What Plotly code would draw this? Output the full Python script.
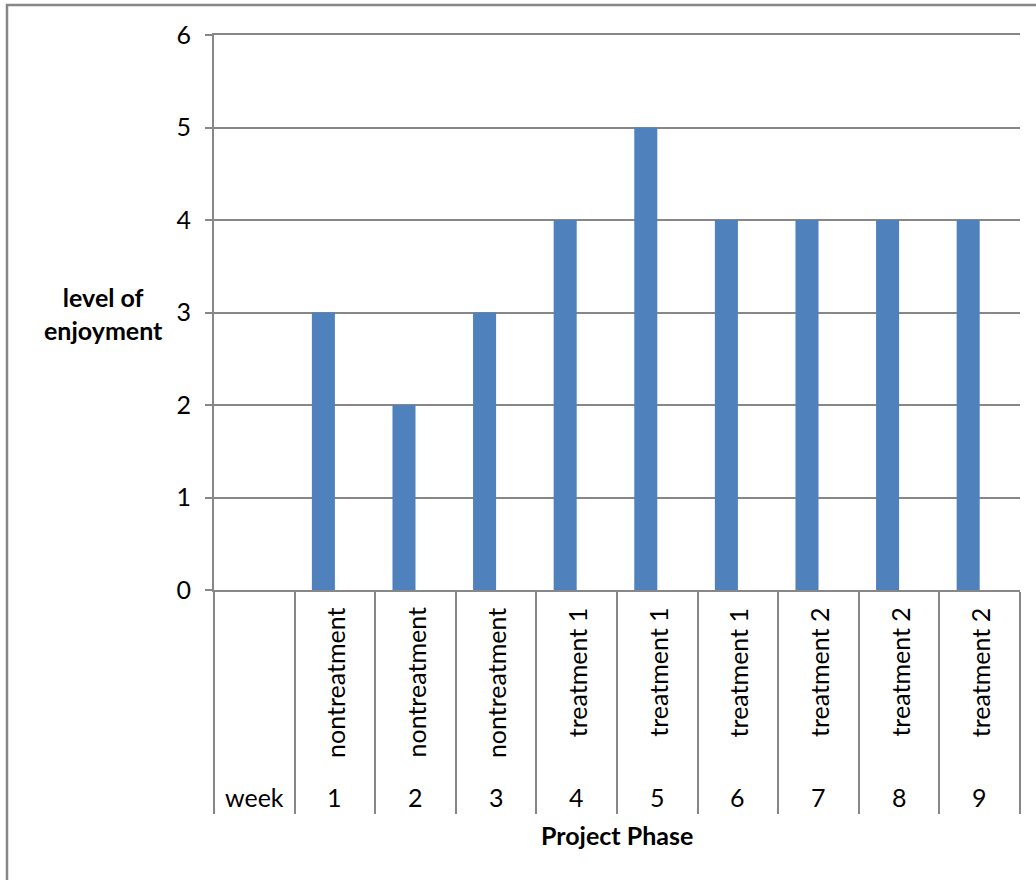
import plotly.graph_objects as go

# ---- data ----
weeks = ["1", "2", "3", "4", "5", "6", "7", "8", "9"]
phases = ["nontreatment", "nontreatment", "nontreatment",
          "treatment 1", "treatment 1", "treatment 1",
          "treatment 2", "treatment 2", "treatment 2"]
enjoyment = [3, 2, 3, 4, 5, 4, 4, 4, 4]
first_col_label = "week"
y_ticks = [0, 1, 2, 3, 4, 5, 6]
y_title = "level of<br>enjoyment"
x_title = "Project Phase"

# ---- layout geometry (pixels) ----
W, H = 1036, 880
L, R, T, B = 214, 1020, 35, 590
PW, PH = R - L, B - T


def px_x(x):
    return (x - L) / PW


def px_y(y):
    return (B - y) / PH


GRID = "#878787"
FONT = "Lato"
FS = 25
BAR = "#4F81BD"

categories = [first_col_label] + weeks

fig = go.Figure()
fig.add_trace(go.Bar(
    x=weeks, y=enjoyment,
    marker=dict(color=BAR, line=dict(width=0)),
    width=0.2857, offset=-0.2857,
    showlegend=False,
))

annotations = []
# phase labels (rotated)
for w, p in zip(weeks, phases):
    annotations.append(dict(
        x=w, xref="x", y=px_y(606), yref="paper",
        text=p, textangle=-90, showarrow=False,
        xanchor="center", yanchor="top",
        font=dict(family=FONT, size=FS, color="black"),
    ))
# week row
for c in categories:
    annotations.append(dict(
        x=c, xref="x", y=px_y(797), yref="paper",
        text=c, showarrow=False, xanchor="center", yanchor="middle",
        font=dict(family=FONT, size=FS, color="black"),
    ))
# axis titles
annotations.append(dict(
    x=px_x(104), xref="paper", y=px_y(313), yref="paper",
    text="<b>" + y_title + "</b>", showarrow=False,
    xanchor="center", yanchor="middle", align="center",
    font=dict(family=FONT, size=FS, color="black"),
))
annotations.append(dict(
    x=0.5, xref="paper", y=px_y(835), yref="paper",
    text="<b>" + x_title + "</b>", showarrow=False,
    xanchor="center", yanchor="middle",
    font=dict(family=FONT, size=FS, color="black"),
))

shapes = [
    # outer chart border (runs off the right and bottom of the page)
    dict(type="rect", xref="paper", yref="paper",
         x0=px_x(7), x1=px_x(1100), y0=px_y(950), y1=px_y(5),
         line=dict(color=GRID, width=2.5), fillcolor="rgba(0,0,0,0)",
         layer="below"),
]

fig.update_layout(
    width=W, height=H,
    margin=dict(l=L, r=W - R, t=T, b=H - B, pad=0),
    paper_bgcolor="white", plot_bgcolor="white",
    font=dict(family=FONT, size=FS, color="black"),
    annotations=annotations,
    shapes=shapes,
    showlegend=False,
)
fig.update_xaxes(
    type="category", categoryorder="array", categoryarray=categories,
    range=[-0.5, len(categories) - 0.5],
    showticklabels=False, showgrid=False, zeroline=False,
    showline=True, mirror=True, linecolor=GRID, linewidth=2,
    ticks="outside", tickson="boundaries", ticklen=222,
    tickcolor=GRID, tickwidth=2,
)
fig.update_yaxes(
    range=[0, 6], tickvals=y_ticks,
    showgrid=True, gridcolor=GRID, gridwidth=2,
    zeroline=False, showline=True, linecolor=GRID, linewidth=2,
    ticks="outside", ticklen=7, tickcolor=GRID, tickwidth=2,
    ticklabelstandoff=9,
    tickfont=dict(family=FONT, size=FS, color="black"),
)

fig.write_html(
    "out.html",
    config={"displayModeBar": False},
    post_script="document.body.style.margin='0';document.body.style.overflow='hidden';",
)
